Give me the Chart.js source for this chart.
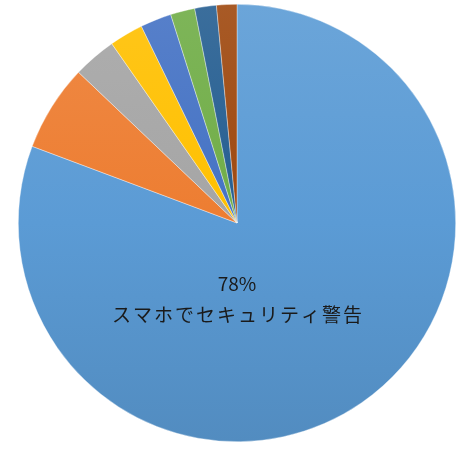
<!DOCTYPE html>
<html>
<head>
<meta charset="UTF-8">
<title>スマホでセキュリティ警告</title>
<style>
  html, body { margin: 0; padding: 0; background: #fff; }
  #wrap { width: 470px; height: 454px; }
</style>
</head>
<body>
<script src="https://cdn.jsdelivr.net/npm/chart.js@4/dist/chart.umd.min.js"></script>

<div id="wrap"><canvas id="myPieChart" width="470" height="454"></canvas></div>

<script>
// slice values (share of the whole)
var categories = ['スマホでセキュリティ警告', '', '', '', '', '', '', ''];
var values = [80.7, 6.4, 3.2, 2.5, 2.3, 1.8, 1.6, 1.5];
var pctLabels = ['78%', '', '', '', '', '', '', ''];
var colors = ['#5B9BD5', '#ED7D31', '#A5A5A5', '#FFC000', '#4472C4', '#70AD47', '#255E91', '#9E480E'];

function mix(hex, other, t) {
  var a = parseInt(hex.slice(1), 16), b = parseInt(other.slice(1), 16);
  var r = Math.round(((a >> 16) & 255) * (1 - t) + ((b >> 16) & 255) * t);
  var g = Math.round(((a >> 8) & 255) * (1 - t) + ((b >> 8) & 255) * t);
  var bl = Math.round((a & 255) * (1 - t) + (b & 255) * t);
  return 'rgb(' + r + ',' + g + ',' + bl + ')';
}

// soft top-to-bottom shading like the office default fill
function sliceFill(ctx) {
  var chart = ctx.chart, area = chart.chartArea;
  var base = colors[ctx.dataIndex];
  if (!area) return base;
  var grad = chart.ctx.createLinearGradient(0, area.top, 0, area.bottom);
  grad.addColorStop(0, mix(base, '#ffffff', 0.1));
  grad.addColorStop(0.5, base);
  grad.addColorStop(1, mix(base, '#000000', 0.1));
  return grad;
}

// category name and percent drawn inside the big slice
var sliceText = {
  id: 'sliceText',
  afterDatasetsDraw: function (chart) {
    var c = chart.ctx;
    var meta = chart.getDatasetMeta(0);
    meta.data.forEach(function (arc, i) {
      if (!pctLabels[i]) return;
      var x = arc.x, y = arc.y + arc.outerRadius * 0.28;
      c.save();
      c.fillStyle = '#1a1a1a';
      c.textAlign = 'center';
      c.textBaseline = 'middle';
      c.font = '19px "Noto Sans CJK JP", "Noto Sans", sans-serif';
      c.fillText(pctLabels[i], x, y);
      c.letterSpacing = '2px';
      c.fillText(categories[i], x + 1, y + 31);
      c.restore();
    });
  }
};

var ctx = document.getElementById('myPieChart').getContext('2d');
var myPieChart = new Chart(ctx, {
  type: 'pie',
  data: {
    labels: categories,
    datasets: [{
      data: values,
      backgroundColor: sliceFill,
      borderColor: 'rgba(255,255,255,0.6)',
      borderWidth: 0.6
    }]
  },
  options: {
    responsive: false,
    animation: false,
    layout: { padding: { left: 18, right: 14, top: 4, bottom: 12 } },
    plugins: {
      legend: { display: false },
      tooltip: { enabled: false }
    }
  },
  plugins: [sliceText]
});
</script>
</body>
</html>
